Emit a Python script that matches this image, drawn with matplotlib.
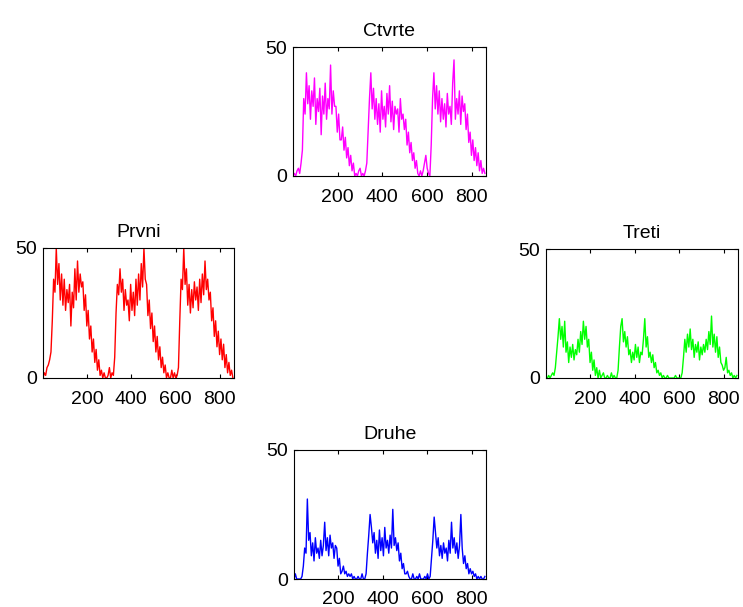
import numpy as np
import matplotlib.pyplot as plt

plt.rcParams['font.family'] = ['Liberation Sans', 'DejaVu Sans']

# samples every 6th point of the 864-point series (x = 1, 7, 13, ...)
step = 6

prvni = [0, 2, 1, 4, 5, 7, 10, 22, 38, 33, 50, 36,
         44, 30, 40, 28, 38, 26, 34, 29, 36, 20, 33, 27,
         42, 30, 45, 33, 40, 35, 37, 26, 32, 20, 26, 15,
         20, 10, 15, 6, 11, 3, 7, 1, 3, 0, 2, 0,
         0, 1, 4, 0, 2, 1, 8, 25, 36, 32, 42, 33,
         38, 26, 34, 28, 30, 22, 36, 26, 33, 24, 38, 28,
         40, 30, 44, 35, 50, 38, 36, 24, 30, 19, 25, 14,
         20, 10, 16, 7, 12, 4, 8, 2, 5, 0, 2, 0,
         0, 3, 0, 2, 0, 1, 4, 22, 38, 34, 50, 36,
         42, 28, 36, 25, 34, 27, 37, 30, 35, 26, 38, 29,
         40, 32, 45, 34, 38, 30, 33, 22, 27, 16, 22, 12,
         18, 9, 15, 7, 13, 4, 9, 2, 6, 1, 3, 0]

druhe = [0, 2, 0, 0, 0, 0, 1, 5, 12, 10, 31, 15,
         18, 9, 14, 7, 16, 10, 12, 8, 15, 9, 13, 22,
         11, 16, 9, 17, 12, 14, 8, 13, 12, 5, 8, 2,
         3, 5, 2, 3, 1, 2, 1, 2, 0, 1, 0, 0,
         1, 0, 0, 2, 0, 0, 2, 10, 17, 25, 20, 14,
         18, 10, 15, 8, 19, 11, 16, 9, 20, 12, 15, 10,
         17, 12, 27, 13, 16, 11, 14, 7, 10, 4, 6, 2,
         2, 3, 1, 0, 0, 2, 0, 0, 1, 0, 2, 0,
         0, 0, 1, 0, 2, 0, 1, 8, 15, 24, 18, 12,
         16, 9, 13, 8, 14, 10, 12, 7, 15, 10, 22, 12,
         16, 10, 14, 8, 13, 25, 12, 6, 9, 4, 6, 2,
         4, 2, 3, 1, 2, 0, 1, 0, 1, 0, 0, 1]

treti = [0, 0, 1, 0, 1, 2, 1, 4, 10, 16, 23, 15,
         20, 12, 22, 10, 14, 6, 12, 8, 13, 7, 11, 9,
         15, 10, 18, 13, 22, 15, 20, 12, 15, 6, 10, 3,
         7, 1, 4, 0, 3, 0, 1, 2, 0, 0, 1, 0,
         0, 2, 0, 1, 0, 0, 3, 12, 20, 23, 14, 18,
         12, 16, 9, 11, 6, 10, 7, 13, 8, 12, 6, 10,
         9, 15, 23, 12, 16, 8, 10, 6, 9, 4, 6, 2,
         3, 1, 2, 0, 1, 0, 0, 1, 0, 0, 0, 0,
         0, 1, 0, 0, 0, 0, 2, 8, 15, 10, 17, 12,
         19, 11, 15, 8, 13, 10, 14, 7, 12, 9, 13, 10,
         15, 11, 18, 13, 24, 12, 17, 10, 16, 8, 12, 6,
         5, 3, 4, 8, 2, 3, 1, 2, 0, 1, 0, 1]

ctvrte = [0, 1, 0, 2, 3, 1, 5, 10, 30, 24, 40, 28,
          35, 22, 33, 27, 38, 20, 30, 25, 34, 16, 31, 24,
          36, 22, 30, 26, 43, 24, 33, 27, 27, 17, 24, 14,
          14, 19, 10, 15, 7, 11, 4, 8, 2, 5, 0, 1,
          0, 2, 3, 0, 1, 0, 2, 5, 18, 30, 40, 26,
          34, 22, 30, 20, 28, 17, 33, 22, 27, 19, 32, 24,
          35, 21, 29, 18, 27, 24, 26, 17, 30, 22, 24, 18,
          22, 12, 17, 9, 13, 6, 9, 3, 6, 1, 0, 2,
          0, 2, 5, 8, 3, 1, 0, 12, 30, 40, 26, 35,
          24, 33, 21, 30, 22, 28, 19, 32, 24, 27, 20, 36,
          45, 22, 30, 24, 33, 20, 31, 25, 28, 18, 24, 13,
          17, 8, 14, 6, 11, 4, 9, 2, 6, 1, 3, 1]

x = np.arange(len(prvni)) * step + 1

panels = [
    ('Ctvrte', ctvrte, '#ff00ff', [293/743, 431/607, 193/743, 129/607]),
    ('Prvni', prvni, '#ff0000', [43/743, 229/607, 191/743, 130/607]),
    ('Treti', treti, '#00ff00', [546/743, 229/607, 192/743, 129/607]),
    ('Druhe', druhe, '#0000ff', [294/743, 28/607, 192/743, 129/607]),
]

fig = plt.figure(figsize=(7.43, 6.07), dpi=100)
for title, y, color, rect in panels:
    ax = fig.add_axes(rect)
    ax.plot(x, y, color=color, lw=1.0)
    ax.set_xlim(1, 864)
    ax.set_ylim(0, 50)
    ax.set_xticks([200, 400, 600, 800])
    ax.set_yticks([0, 50])
    ax.tick_params(direction='in', top=True, right=True, length=3, labelsize=14, pad=4)
    ax.tick_params(axis='x', pad=9)
    ax.set_title(title, fontsize=14, pad=8)
    for s in ax.spines.values():
        s.set_linewidth(0.8)

fig.savefig('out.png', dpi=100)
